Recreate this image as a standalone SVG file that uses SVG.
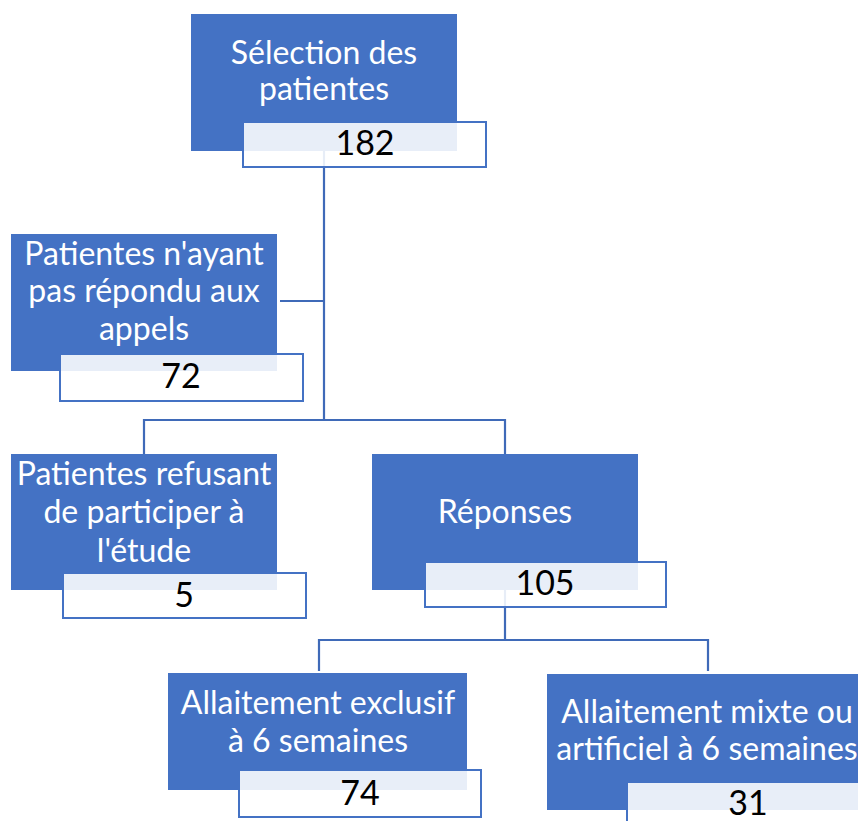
<svg xmlns="http://www.w3.org/2000/svg" width="858" height="821" viewBox="0 0 858 821">
<style>
.blue{fill:#4472c4}
.box{fill:#ffffff;fill-opacity:0.88;stroke:#4472c4;stroke-width:2}
.t{font-family:Lato,"Open Sans",sans-serif;font-size:32px;fill:#ffffff;text-anchor:middle}
.n{font-family:Lato,"Open Sans",sans-serif;font-size:34px;fill:#000000;text-anchor:middle}
.c{fill:none;stroke:#3f6ab8;stroke-width:2.2}
</style>
<rect width="858" height="821" fill="#ffffff"/>
<g id="connectors">
<path class="c" d="M324 150 V420 M280 301 H324 M144 455 V420 H505 V455"/>
<path class="c" d="M505 590 V640 M319 671 V640 H708 V671"/>
</g>
<g id="n1">
<rect class="blue" x="191" y="14" width="266" height="137"/>
<text class="t" x="324" y="64">Sélection des</text>
<text class="t" x="324" y="100">patientes</text>
<rect class="box" x="243" y="122" width="243" height="45"/>
<text class="n" x="365" y="155">182</text>
</g>
<g id="n2">
<rect class="blue" x="11" y="234" width="266" height="137"/>
<text class="t" x="144" y="265">Patientes n'ayant</text>
<text class="t" x="144" y="302">pas répondu aux</text>
<text class="t" x="144" y="340">appels</text>
<rect class="box" x="60" y="354" width="243" height="47"/>
<text class="n" x="181" y="388">72</text>
</g>
<g id="n3">
<rect class="blue" x="11" y="454" width="266" height="136"/>
<text class="t" x="144" y="485">Patientes refusant</text>
<text class="t" x="144" y="523">de participer à</text>
<text class="t" x="144" y="562">l'étude</text>
<rect class="box" x="63" y="573" width="243" height="45"/>
<text class="n" x="184" y="607">5</text>
</g>
<g id="n4">
<rect class="blue" x="372" y="454" width="266" height="136"/>
<text class="t" x="505" y="523">Réponses</text>
<rect class="box" x="425" y="562" width="241" height="45"/>
<text class="n" x="545" y="595">105</text>
</g>
<g id="n5">
<rect class="blue" x="168" y="673" width="299" height="117"/>
<text class="t" x="318" y="714">Allaitement exclusif</text>
<text class="t" x="318" y="752">à 6 semaines</text>
<rect class="box" x="239" y="770" width="242" height="47"/>
<text class="n" x="360" y="805">74</text>
</g>
<g id="n6">
<rect class="blue" x="547" y="674" width="322" height="136"/>
<text class="t" x="707" y="723">Allaitement mixte ou</text>
<text class="t" x="707" y="760">artificiel à 6 semaines</text>
<rect class="box" x="627" y="782" width="242" height="47"/>
<text class="n" x="748" y="815">31</text>
</g>
</svg>
